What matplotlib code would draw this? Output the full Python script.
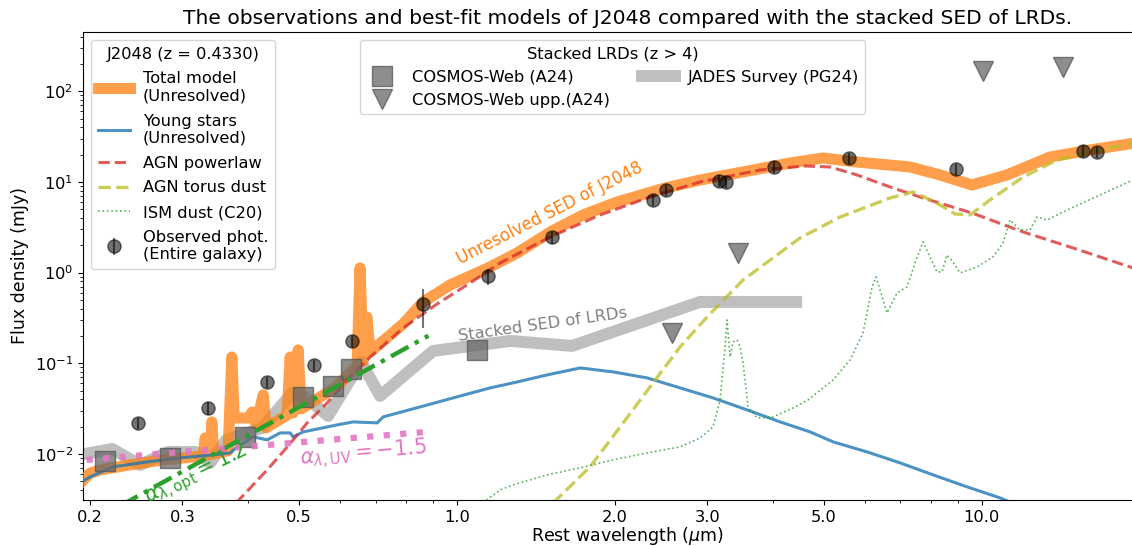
import matplotlib
matplotlib.use("Agg")

import matplotlib.pyplot as plt
from matplotlib.ticker import NullFormatter

# J2048 model components (rest wavelength in micron, flux density in mJy)
total_wave = [0.1916, 0.2001, 0.2092, 0.2385, 0.2758, 0.3200, 0.3287, 0.3316, 0.3345, 0.3389,
              0.3414, 0.3441, 0.3667, 0.3727, 0.3765, 0.4004, 0.4075, 0.4147, 0.4276, 0.4333,
              0.4751, 0.4814, 0.4877, 0.4985, 0.5051, 0.5890, 0.6456, 0.6541, 0.6628, 0.6738,
              0.6837, 0.7902, 0.8626, 0.9710, 1.147, 1.303, 1.519, 1.740, 2.020, 2.494, 2.907,
              3.272, 4.314, 4.985, 5.788, 7.302, 8.330, 9.583, 11.17, 13.50, 16.08, 19.59]
total_flux = [0.00475, 0.00613, 0.00666, 0.00756, 0.00859, 0.00934, 0.00963, 0.0150, 0.00975, 0.00987,
              0.0225, 0.0100, 0.0108, 0.117, 0.0249, 0.0249, 0.0290, 0.0209, 0.0447, 0.0194,
              0.0269, 0.117, 0.0283, 0.140, 0.0313, 0.0548, 0.0934, 1.124, 0.106, 0.324,
              0.133, 0.271, 0.474, 0.730, 1.124, 1.645, 2.875, 4.315, 6.003, 8.564, 10.49,
              11.92, 16.16, 18.34, 16.57, 14.60, 11.92, 9.243, 11.92, 18.82, 22.47, 26.85]

stars_wave = [0.1916, 0.2001, 0.2215, 0.2571, 0.2972, 0.3434, 0.3700, 0.3815, 0.4093, 0.4352,
              0.4607, 0.4814, 0.4877, 0.5096, 0.5916, 0.6345, 0.7050, 0.7239, 0.8514, 0.9839,
              1.157, 1.280, 1.486, 1.718, 1.985, 2.304, 2.663, 3.077, 3.573, 4.129, 4.710,
              5.211, 6.045, 6.989, 8.075, 9.376, 10.84, 11.42]
stars_flux = [0.00479, 0.00558, 0.00719, 0.00816, 0.00903, 0.00975, 0.01026, 0.01194, 0.01540, 0.01427,
              0.01704, 0.01704, 0.01540, 0.01748, 0.02088, 0.02253, 0.02197, 0.02558, 0.03297, 0.04144,
              0.0534, 0.0607, 0.0743, 0.0887, 0.0802, 0.0689, 0.0534, 0.04144, 0.03055, 0.02253, 0.01748,
              0.01356, 0.01052, 0.00796, 0.00587, 0.00433, 0.00327, 0.00288]

pl_wave = [0.3799, 0.4352, 0.4751, 0.5188, 0.5662, 0.6180, 0.6837, 0.7902, 0.9173, 1.060,
           1.209, 1.506, 1.875, 2.334, 2.907, 3.782, 4.607, 5.140, 5.788, 6.689, 7.729,
           9.583, 11.99, 14.93, 19.42]
pl_flux = [0.00288, 0.00666, 0.0119, 0.0220, 0.0365, 0.0654, 0.117, 0.245, 0.451, 0.768,
           1.276, 2.469, 4.315, 6.816, 9.977, 13.53, 14.97, 14.60, 11.92, 8.786, 6.645,
           4.540, 2.803, 1.867, 1.124]

torus_wave = [1.526, 1.794, 2.047, 2.365, 2.663, 2.998, 3.511, 4.507, 5.372, 6.689, 7.398,
              8.147, 8.895, 9.499, 10.37, 11.99, 13.91, 16.08, 19.42]
torus_flux = [0.00288, 0.00719, 0.01985, 0.0607, 0.1512, 0.324, 0.829, 2.407, 4.102, 6.645, 7.740,
              6.003, 4.427, 4.316, 6.315, 11.32, 17.43, 21.36, 26.85]

ism_wave = [1.122, 1.209, 1.280, 1.486, 1.718, 1.985, 2.304, 2.663, 2.907, 3.077, 3.173, 3.244,
            3.272, 3.316, 3.360, 3.419, 3.464, 3.510, 3.588, 3.733, 4.004, 4.372, 4.669, 5.211,
            5.612, 5.941, 6.180, 6.291, 6.402, 6.600, 6.896, 7.205, 7.464, 7.729, 7.970, 8.221,
            8.400, 8.586, 8.814, 9.093, 9.795, 10.51, 10.98, 11.32, 11.83, 12.36, 12.74, 13.32,
            14.54, 16.80, 19.42]
ism_flux = [0.00288, 0.00401, 0.00455, 0.00587, 0.00701, 0.00859, 0.01026, 0.01194, 0.0150, 0.01985,
            0.0394, 0.1512, 0.300, 0.1173, 0.1717, 0.1807, 0.1512, 0.1008, 0.03297, 0.02493,
            0.02558, 0.03215, 0.0394, 0.0654, 0.1087, 0.2158, 0.6939, 0.8943, 0.6429, 0.3585,
            0.5957, 0.6939, 1.276, 2.175, 1.486, 1.015, 1.015, 1.563, 1.309, 0.990, 1.153,
            1.486, 2.120, 3.802, 2.949, 2.949, 4.102, 3.802, 4.899, 7.171, 10.49]

# photometry of the entire galaxy
obs_wave = [0.2469, 0.3355, 0.4346, 0.534, 0.631, 0.861, 1.149, 1.517, 2.369, 2.50,
            3.164, 3.253, 4.02, 5.58, 8.93, 15.57, 16.56]
obs_flux = [0.0218, 0.0319, 0.0617, 0.0951, 0.176, 0.451, 0.917, 2.45, 6.31, 8.15,
            10.3, 9.9, 14.7, 18.2, 13.9, 22.1, 21.2]
obs_err = [0.003, 0.005, 0.009, 0.014, 0.026, 0.205, 0.18, 0.36, 0.9, 1.2,
           1.5, 1.4, 2.1, 2.6, 2.0, 3.2, 3.0]

# stacked LRDs
cosmos_wave = [0.2133, 0.2844, 0.3947, 0.5103, 0.5804, 0.629, 1.092]
cosmos_flux = [0.00844, 0.00903, 0.0155, 0.0422, 0.0566, 0.0859, 0.139]
upp_wave = [2.568, 3.429, 10.06, 14.29]
upp_flux = [0.214, 1.63, 167, 185]
jades_wave = [0.1916, 0.2205, 0.2493, 0.2818, 0.3173, 0.3389, 0.3635, 0.4257, 0.4856, 0.514,
              0.5686, 0.6572, 0.7141, 0.9013, 1.2636, 1.658, 2.907, 4.43]
jades_flux = [0.00975, 0.01135, 0.00756, 0.0105, 0.0105, 0.00796, 0.01427, 0.01935, 0.0471, 0.0425,
              0.0262, 0.1033, 0.0436, 0.1367, 0.1761, 0.1551, 0.4742, 0.4742]

# power-law slopes
opt_wave = [0.2284, 0.8828]
opt_flux = [0.00267, 0.2010]
uv_wave = [0.197, 0.889]
uv_flux = [0.0086, 0.0176]

xticks = [0.2, 0.3, 0.5, 1.0, 2.0, 3.0, 5.0, 10.0]
xtick_labels = ["0.2", "0.3", "0.5", "1.0", "2.0", "3.0", "5.0", "10.0"]

fig = plt.figure(figsize=(11.32, 5.46), dpi=100)
ax = fig.add_axes([83 / 1132, 46 / 546, (1171.6 - 83) / 1132, 468 / 546])

h_jades, = ax.plot(jades_wave, jades_flux, color="gray", alpha=0.5, lw=8.6,
                   zorder=2, label="JADES Survey (PG24)")
h_total, = ax.plot(total_wave, total_flux, color="tab:orange", alpha=0.75, lw=8,
                   zorder=3, label="Total model\n(Unresolved)")
h_stars, = ax.plot(stars_wave, stars_flux, color="tab:blue", alpha=0.8, lw=2.2,
                   zorder=4, label="Young stars\n(Unresolved)")
h_pl, = ax.plot(pl_wave, pl_flux, color="tab:red", alpha=0.75, lw=2.2, ls="--",
                zorder=4, label="AGN powerlaw")
h_torus, = ax.plot(torus_wave, torus_flux, color="tab:olive", alpha=0.75, lw=2.4, ls="--",
                   zorder=4, label="AGN torus dust")
h_ism, = ax.plot(ism_wave, ism_flux, color="tab:green", alpha=0.8, lw=1.2, ls=":",
                 zorder=4, label="ISM dust (C20)")

h_sq, = ax.plot(cosmos_wave, cosmos_flux, ls="none", marker="s", ms=14, color="dimgray",
                mec="#555555", alpha=0.75, zorder=5, label="COSMOS-Web (A24)")
h_tri, = ax.plot(upp_wave, upp_flux, ls="none", marker="v", ms=14, color="dimgray",
                 mec="#555555", alpha=0.75, zorder=5, label="COSMOS-Web upp.(A24)")

ax.plot(opt_wave, opt_flux, color="tab:green", lw=3.2, ls=(0, (4.5, 1.6, 1, 1.6)), zorder=6)
ax.plot(uv_wave, uv_flux, color="tab:pink", alpha=0.9, lw=4.5, ls=":", zorder=6)

h_obs = ax.errorbar(obs_wave, obs_flux, yerr=obs_err, fmt="o", ms=9.5, color="k",
                    mec="k", alpha=0.55, elinewidth=1.5, zorder=7,
                    label="Observed phot.\n(Entire galaxy)")

ax.text(1.506, 4.51, "Unresolved SED of J2048", color="tab:orange", fontsize=12,
        rotation=27, rotation_mode="anchor", ha="center", va="center", zorder=8)
ax.text(1.457, 0.264, "Stacked SED of LRDs", color="gray", fontsize=11.7,
        rotation=8, rotation_mode="anchor", ha="center", va="center", zorder=8)
ax.text(0.319, 0.0059, r"$\alpha_{\lambda,\rm opt} = 1.2$", color="tab:green", fontsize=15,
        rotation=26, rotation_mode="anchor", ha="center", va="center", zorder=8)
ax.text(0.663, 0.0099, r"$\alpha_{\lambda,\rm UV} = -1.5$", color="tab:pink", fontsize=15,
        rotation=5, rotation_mode="anchor", ha="center", va="center", zorder=8)

ax.set_xscale("log")
ax.set_yscale("log")
ax.set_xlim(0.194, 23)
ax.set_ylim(3.1e-3, 450)
ax.set_xticks(xticks)
ax.set_xticklabels(xtick_labels)
ax.xaxis.set_minor_formatter(NullFormatter())
ax.tick_params(labelsize=11.7)

ax.set_xlabel(r"Rest wavelength ($\mu$m)", fontsize=12.5, labelpad=0)
ax.set_ylabel("Flux density (mJy)", fontsize=12.5)
ax.set_title("The observations and best-fit models of J2048 compared with the stacked SED of LRDs.",
             fontsize=14.6)

leg1 = ax.legend(handles=[h_total, h_stars, h_pl, h_torus, h_ism, h_obs],
                 loc="upper left", title="J2048 (z = 0.4330)", fontsize=11.7,
                 title_fontsize=11.7, labelspacing=0.6)
ax.add_artist(leg1)
ax.legend(handles=[h_sq, h_tri, h_jades], loc="upper center", bbox_to_anchor=(0.4864, 1.0),
          ncol=2, title="Stacked LRDs (z > 4)", fontsize=11.7, title_fontsize=11.7)

fig.savefig("out.png", dpi=100)
